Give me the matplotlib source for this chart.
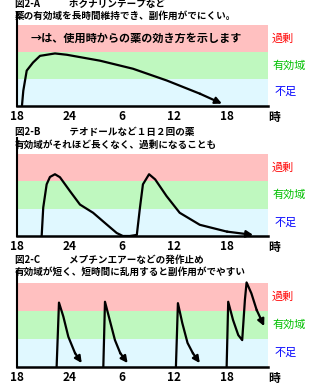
import matplotlib
matplotlib.use("Agg")
import matplotlib.pyplot as plt

plt.rcParams['font.family'] = ['Noto Sans CJK JP', 'DejaVu Sans']

W, H = 319, 389

# hours after 18:00, drug level (0-1 不足, 1-2 有効域, 2-3 過剰)
tick_hours = [0, 6, 12, 18, 24]
tick_labels = ["18", "24", "6", "12", "18"]
band_labels = ["過剰", "有効域", "不足"]

a_t = [0.57, 0.72, 1.11, 1.83, 2.63, 4.34, 5.71, 9.49, 13.26, 17.14, 20.91, 23.43]
a_y = [0.0, 0.55, 1.30, 1.60, 1.85, 1.94, 1.89, 1.67, 1.37, 0.93, 0.44, 0.07]

b_t = [2.82, 3.0, 3.39, 3.77, 4.34, 4.91, 6.06, 7.2, 8.7, 10.3, 11.4, 12.1, 12.9,
       13.7, 14.06, 14.4, 15.1, 15.8, 17.1, 18.6, 20.9, 24.0, 27.0]
b_y = [0.0, 1.04, 1.89, 2.16, 2.26, 2.15, 1.64, 1.15, 0.85, 0.41, 0.11, 0.0, 0.0,
       0.04, 1.04, 1.89, 2.26, 2.07, 1.46, 0.85, 0.41, 0.16, 0.04]

c_doses_t = [
    [4.53, 4.8, 5.3, 5.87, 6.63, 7.4],
    [9.87, 10.06, 10.6, 11.2, 11.8, 12.65],
    [18.17, 18.4, 18.9, 19.5, 20.1, 20.9],
    [23.97, 24.15, 24.7, 25.3, 25.75, 26.06, 26.25, 26.8, 27.4, 28.26],
]
c_doses_y = [
    [0.0, 2.30, 1.80, 1.08, 0.50, 0.14],
    [0.0, 2.33, 1.68, 0.96, 0.50, 0.14],
    [0.0, 2.28, 1.57, 0.86, 0.50, 0.14],
    [0.0, 2.33, 1.68, 1.14, 0.96, 2.40, 3.02, 2.63, 2.04, 1.46],
]

titles = [
    ("図2-A　　　ホクナリンテープなど", "薬の有効域を長時間維持でき、副作用がでにくい。"),
    ("図2-B　　　テオドールなど１日２回の薬", "有効域がそれほど長くなく、過剰になることも"),
    ("図2-C　　　メプチンエアーなどの発作止め", "有効域が短く、短時間に乱用すると副作用がでやすい"),
]

fig = plt.figure(figsize=(W / 100, H / 100), dpi=100)


def make_panel(top, bottom, band_top):
    left, right = 17, 268
    ax = fig.add_axes([left / W, 1 - bottom / H, (right - left) / W, (bottom - top) / H])
    per = (bottom - band_top) / 3
    ax.set_xlim(0, 28.7)
    ax.set_ylim(0, 3 + (band_top - top) / per)
    ax.axhspan(2, 3, color='#FFC0C0', lw=0)
    ax.axhspan(1, 2, color='#BFF8BF', lw=0)
    ax.axhspan(0, 1, color='#E0F8FF', lw=0)
    for s in ['top', 'right']:
        ax.spines[s].set_visible(False)
    ax.spines['left'].set_linewidth(1.5)
    ax.spines['bottom'].set_linewidth(1.8)
    ax.set_yticks([])
    ax.set_xticks(tick_hours)
    ax.set_xticklabels(tick_labels, fontsize=8.5, fontweight='bold')
    ax.tick_params(axis='x', length=0, pad=3)
    ax.text(29.4, -(11.5 / per), "時", fontsize=8.5, fontweight='bold',
            ha='center', va='center', clip_on=False)
    colors = ['#FF0000', '#00C000', '#0000FF']
    for i, (lab, col) in enumerate(zip(band_labels, colors)):
        ax.text(1.016 if i < 2 else 1.025, 2.5 - i, lab, color=col, fontsize=8,
                transform=ax.get_yaxis_transform(), ha='left', va='center')
    return ax


def curve(ax, t, y):
    ax.plot(t[:-1], y[:-1], color='black', lw=1.6, solid_joinstyle='round')
    ax.annotate('', xy=(t[-1], y[-1]), xytext=(t[-2], y[-2]),
                arrowprops=dict(arrowstyle='-|>', color='black', lw=1.6,
                                mutation_scale=10, shrinkA=0, shrinkB=0))


ax_a = make_panel(13, 105.5, 25)
curve(ax_a, a_t, a_y)
ax_a.text(1.5, 2.51, "→は、使用時からの薬の効き方を示します", fontsize=8,
          fontweight='bold', ha='left', va='center')

ax_b = make_panel(138, 236, 154)
curve(ax_b, b_t, b_y)

ax_c = make_panel(271, 367, 283)
for t, y in zip(c_doses_t, c_doses_y):
    curve(ax_c, t, y)

title_y = [(4.5, 15.5), (132, 144.5), (260, 272)]
for (l1, l2), (y1, y2) in zip(titles, title_y):
    fig.text(15 / W, 1 - y1 / H, l1, fontsize=6.9, fontweight='bold', va='center', ha='left')
    fig.text(15 / W, 1 - y2 / H, l2, fontsize=6.9, fontweight='bold', va='center', ha='left')

fig.savefig("out.png", dpi=100)
